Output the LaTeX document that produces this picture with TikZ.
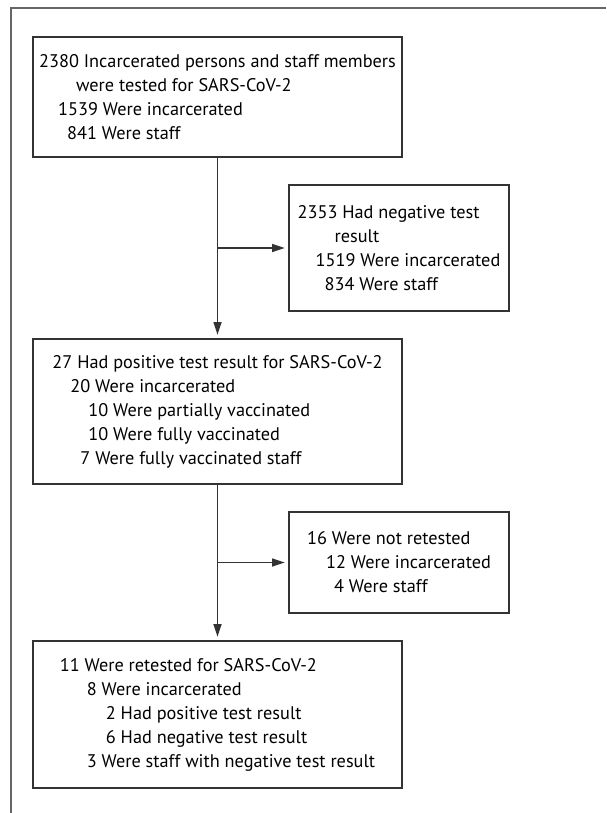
\documentclass[tikz,border=0pt]{standalone}
\usepackage{fontspec}
\setmainfont{PT Sans}
\usetikzlibrary{arrows.meta}
\newlength\pxu
\setlength\pxu{0.025cm}
\newcommand{\indby}[1]{\hspace*{#1\pxu}}
\tikzset{
  flowarrow/.style={-{Triangle[length=9pt, width=5.6pt]}, line width=1.3pt, draw=black!80, shorten >=2.5pt},
  countbox/.style={draw=black!80, line width=1pt, fill=white, minimum width=9.225cm, align=left, inner sep=0pt},
  sidebox/.style={draw=black!80, line width=1pt, fill=white, minimum width=5.5cm, align=left, inner sep=0pt},
  frameline/.style={draw=black!60, line width=1.5pt}
}

\begin{document}
\begin{tikzpicture}[every node/.style={font=\fontsize{13}{17.07}\selectfont}]
  \useasboundingbox (0,0) rectangle (15.15,-20.325);
  \draw[frameline] (15.15,-0.2) -- (0.27,-0.2) -- (0.27,-20.325);

  \node[countbox, minimum height=3.0cm] (tested) at (5.4375,-2.425)
    {2380 Incarcerated persons and staff members\\
     \indby{37}were tested for SARS-CoV-2\\
     \indby{19}1539 Were incarcerated\\
     \indby{28}841 Were staff};
  \node[sidebox, minimum height=3.15cm] (negative) at (9.975,-6.2)
    {2353 Had negative test\\
     \indby{37}result\\
     \indby{18}1519 Were incarcerated\\
     \indby{27}834 Were staff};
  \node[countbox, minimum height=3.625cm] (positive) at (5.4375,-10.2875)
    {27 Had positive test result for SARS-CoV-2\\
     \indby{18}20 Were incarcerated\\
     \indby{36}10 Were partially vaccinated\\
     \indby{36}10 Were fully vaccinated\\
     \indby{28}7 Were fully vaccinated staff};
  \node[sidebox, minimum height=2.525cm] (notretested) at (9.975,-14.0625)
    {16 Were not retested\\
     \indby{19}12 Were incarcerated\\
     \indby{27}4 Were staff};
  \node[countbox, minimum height=3.675cm] (retested) at (5.4375,-17.8625)
    {11 Were retested for SARS-CoV-2\\
     \indby{27}8 Were incarcerated\\
     \indby{46}2 Had positive test result\\
     \indby{46}6 Had negative test result\\
     \indby{27}3 Were staff with negative test result};

  \coordinate (split1) at (tested.south |- negative.west);
  \coordinate (split2) at (tested.south |- notretested.west);
  \draw[flowarrow] (tested) -- (positive);
  \draw[flowarrow] (split1) -- (negative);
  \draw[flowarrow] (positive) -- (retested);
  \draw[flowarrow] (split2) -- (notretested);
\end{tikzpicture}
\end{document}
